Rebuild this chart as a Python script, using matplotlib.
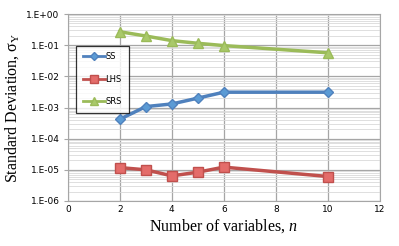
import matplotlib
matplotlib.use("Agg")
import matplotlib.pyplot as plt
from matplotlib.ticker import LogLocator, FixedLocator, NullFormatter

plt.rcParams["mathtext.fontset"] = "custom"
plt.rcParams["mathtext.rm"] = "Liberation Serif"
plt.rcParams["mathtext.it"] = "Liberation Serif:italic"

n_vars = [2, 3, 4, 5, 6, 10]
ss = [4.2e-4, 1.07e-3, 1.3e-3, 2.0e-3, 3.1e-3, 3.1e-3]
lhs = [1.18e-5, 1.0e-5, 6.4e-6, 8.4e-6, 1.22e-5, 6.1e-6]
srs = [0.27, 0.197, 0.14, 0.115, 0.097, 0.057]
yticks = [1e-6, 1e-5, 1e-4, 1e-3, 1e-2, 1e-1, 1e0]
ylabels = ["1.E-06", "1.E-05", "1.E-04", "1.E-03", "1.E-02", "1.E-01", "1.E+00"]
xticks = [0, 2, 4, 6, 8, 10, 12]

fig = plt.figure(figsize=(3.99, 2.46), dpi=100)
ax = fig.add_axes([0.170, 0.183, 0.782, 0.760])
ax.set_yscale("log")
ax.set_xlim(0, 12)
ax.set_ylim(1e-6, 1e0)

ax.yaxis.set_major_locator(FixedLocator(yticks))
ax.set_yticklabels(ylabels)
ax.yaxis.set_minor_locator(LogLocator(base=10, subs=range(2, 10), numticks=20))
ax.yaxis.set_minor_formatter(NullFormatter())
ax.set_xticks(xticks)

ax.grid(True, which="major", axis="both", color="#a6a6a6", lw=0.9)
ax.grid(True, which="minor", axis="y", color="#d9d9d9", lw=0.6)
ax.set_axisbelow(True)
for s in ax.spines.values():
    s.set_color("#a6a6a6")
ax.tick_params(which="both", length=0, labelsize=6.5, colors="black", pad=3)
ax.tick_params(axis="y", which="major", length=3, color="#a6a6a6")
for lab in ax.get_xticklabels() + ax.get_yticklabels():
    lab.set_family("DejaVu Sans")

ax.plot(n_vars, ss, color="#4F81BD", lw=2.5, marker="D", ms=5.5, label="SS",
        markerfacecolor="#5B9BD5", markeredgecolor="#4F81BD")
ax.plot(n_vars, lhs, color="#C0504D", lw=2.5, marker="s", ms=7, label="LHS",
        markerfacecolor="#E46C6A", markeredgecolor="#C0504D")
ax.plot(n_vars, srs, color="#9BBB59", lw=2.5, marker="^", ms=7, label="SRS",
        markerfacecolor="#A9C96A", markeredgecolor="#9BBB59")

leg = ax.legend(loc="upper left", bbox_to_anchor=(0.014, 0.853), fontsize=6,
                frameon=True, fancybox=False, edgecolor="black", borderpad=0.8,
                labelspacing=1.6, handlelength=2.6, handletextpad=0.1,
                markerscale=0.8)
leg.get_frame().set_linewidth(0.9)
for line in leg.get_lines():
    line.set_linewidth(2.0)

ax.set_xlabel("Number of variables, $\\mathit{n}$", family="Liberation Serif", fontsize=11.5, labelpad=2)
ax.set_ylabel("Standard Deviation, σ$_\\mathrm{Y}$", family="Liberation Serif", fontsize=11.5, labelpad=4)

fig.savefig("out.png", dpi=100)
